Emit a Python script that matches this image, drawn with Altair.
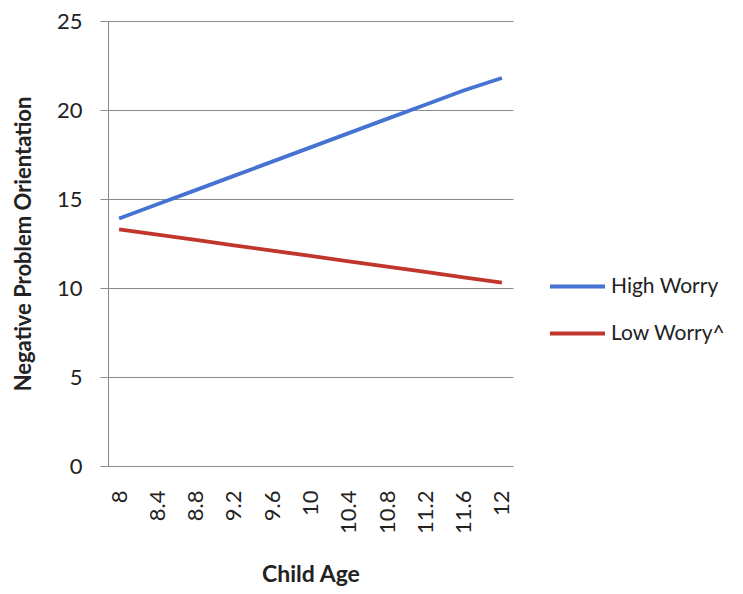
import altair as alt
import pandas as pd

ages = ["8", "8.4", "8.8", "9.2", "9.6", "10", "10.4", "10.8", "11.2", "11.6", "12"]
high_worry = [13.9, 14.7, 15.5, 16.3, 17.1, 17.9, 18.7, 19.5, 20.3, 21.1, 21.8]
low_worry = [13.3, 13.0, 12.7, 12.4, 12.1, 11.8, 11.5, 11.2, 10.9, 10.6, 10.3]
series_names = ["High Worry", "Low Worry^"]
series_colors = ["#4673d1", "#c0362c"]

rows = []
for i, a in enumerate(ages):
    rows.append({"age": a, "value": high_worry[i], "series": series_names[0], "order": i})
    rows.append({"age": a, "value": low_worry[i], "series": series_names[1], "order": i})
df = pd.DataFrame(rows)

FONT = "Lato"

chart = alt.Chart(df).mark_line(strokeWidth=3.8).encode(
    x=alt.X("age:O", sort=ages, title="Child Age",
            scale=alt.Scale(type="point", padding=0.29),
            axis=alt.Axis(labelAngle=270, labelAlign="right", labelBaseline="middle",
                          labelFontSize=22, labelFont=FONT, labelColor="#222",
                          ticks=False, domain=False, labelPadding=24,
                          titleFont=FONT, titleFontSize=23, titleFontWeight="bold",
                          titleColor="#222", titlePadding=30)),
    y=alt.Y("value:Q", title="Negative Problem Orientation",
            scale=alt.Scale(domain=[0, 25], nice=False),
            axis=alt.Axis(values=[0, 5, 10, 15, 20, 25], labelFontSize=22, labelFont=FONT,
                          labelColor="#222", tickSize=8, tickColor="#8a8a8a",
                          labelPadding=18, domainColor="#8a8a8a",
                          gridColor="#8a8a8a", gridWidth=1,
                          titleFont=FONT, titleFontSize=22, titleFontWeight="bold",
                          titleColor="#222", titlePadding=21)),
    color=alt.Color("series:N", scale=alt.Scale(domain=series_names, range=series_colors),
                    legend=alt.Legend(title=None, orient="none", legendX=440, legendY=236,
                                      symbolType="stroke", symbolSize=3025,
                                      symbolStrokeWidth=3.8, labelFont=FONT,
                                      labelFontSize=21, labelColor="#222",
                                      rowPadding=7, labelOffset=4)),
    order="order:Q",
).properties(
    width=405, height=445,
    padding={"left": 100, "top": 13, "right": 222, "bottom": 120},
    autosize=alt.AutoSizeParams(type="none"),
).configure_view(stroke=None)

chart.save("out.html", embed_options={"renderer": "svg", "actions": False})
